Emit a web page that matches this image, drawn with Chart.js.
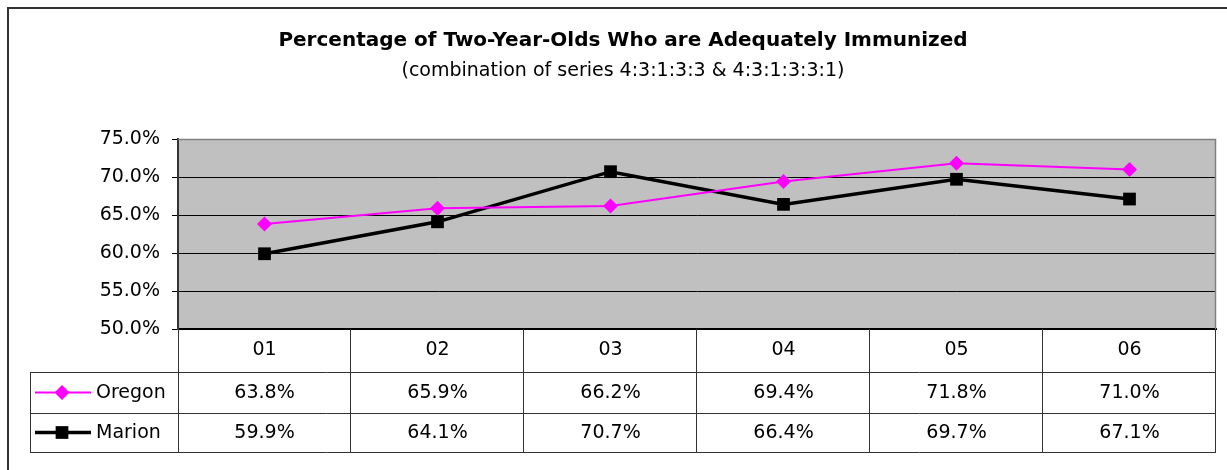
<!DOCTYPE html>
<html>
<head>
<meta charset="utf-8">
<title>Two-Year-Olds Immunized</title>
<script src="https://cdn.jsdelivr.net/npm/chart.js@4/dist/chart.umd.min.js"></script>
<style>
  html, body { margin: 0; padding: 0; background: #fff; }
  canvas { display: block; }
</style>
</head>
<body>
<canvas id="chart" width="1227" height="470"></canvas>
<script>
const categories = ['01', '02', '03', '04', '05', '06'];
const oregonValues = [63.8, 65.9, 66.2, 69.4, 71.8, 71.0];
const marionValues = [59.9, 64.1, 70.7, 66.4, 69.7, 67.1];
const yTicks = [50, 55, 60, 65, 70, 75];
const titleText = 'Percentage of Two-Year-Olds Who are Adequately Immunized';
const subtitleText = '(combination of series 4:3:1:3:3 & 4:3:1:3:3:1)';

const FONT = "'DejaVu Sans', Arial, sans-serif";
const pct = v => v.toFixed(1) + '%';

// draws the title, frame, and the data table under the x axis
const tablePlugin = {
  id: 'tablePlugin',
  beforeDraw(chart) {
    const { ctx, chartArea: a } = chart;
    ctx.save();
    ctx.fillStyle = '#fff';
    ctx.fillRect(0, 0, chart.width, chart.height);
    ctx.fillStyle = '#C0C0C0';
    ctx.fillRect(a.left, a.top, a.right - a.left, a.bottom - a.top);
    ctx.restore();
  },
  afterDraw(chart) {
    const { ctx, chartArea: a } = chart;
    const x = chart.scales.x;
    const half = (x.getPixelForValue(1) - x.getPixelForValue(0)) / 2;
    const row1 = a.bottom + 43, row2 = row1 + 41, row3 = row2 + 39;
    const legendLeft = 30;

    ctx.save();
    // outer frame
    ctx.strokeStyle = '#333';
    ctx.lineWidth = 2;
    ctx.strokeRect(8, 8, chart.width + 20, chart.height + 20);

    // titles
    ctx.fillStyle = '#000';
    ctx.textAlign = 'center';
    ctx.textBaseline = 'alphabetic';
    ctx.font = 'bold 20px ' + FONT;
    ctx.fillText(titleText, 623, 46);
    ctx.font = '19px ' + FONT;
    ctx.fillText(subtitleText, 623, 76);

    // plot border top/right
    ctx.strokeStyle = '#808080';
    ctx.lineWidth = 1.5;
    ctx.beginPath();
    ctx.moveTo(a.left, a.top + 0.5);
    ctx.lineTo(a.right - 0.5, a.top + 0.5);
    ctx.lineTo(a.right - 0.5, a.bottom);
    ctx.stroke();

    // table grid
    ctx.strokeStyle = '#333';
    ctx.lineWidth = 1;
    ctx.beginPath();
    [row1, row2, row3].forEach(y => {
      ctx.moveTo(legendLeft, y + 0.5);
      ctx.lineTo(a.right, y + 0.5);
    });
    ctx.moveTo(legendLeft + 0.5, row1);
    ctx.lineTo(legendLeft + 0.5, row3);
    ctx.moveTo(a.left + 0.5, a.bottom);
    ctx.lineTo(a.left + 0.5, row3);
    categories.forEach((c, i) => {
      const bx = Math.round(x.getPixelForValue(i) + half) - 0.5;
      ctx.moveTo(bx, a.bottom);
      ctx.lineTo(bx, row3);
    });
    ctx.stroke();

    // values
    ctx.font = '19px ' + FONT;
    ctx.textAlign = 'center';
    ctx.textBaseline = 'middle';
    categories.forEach((c, i) => {
      const cx = x.getPixelForValue(i);
      ctx.fillText(pct(oregonValues[i]), cx, (row1 + row2) / 2 + 1);
      ctx.fillText(pct(marionValues[i]), cx, (row2 + row3) / 2 + 1);
    });

    // legend keys
    const ds = chart.data.datasets;
    const keys = [[ds[0], (row1 + row2) / 2], [ds[1], (row2 + row3) / 2]];
    keys.forEach(([d, y]) => {
      ctx.strokeStyle = d.borderColor;
      ctx.lineWidth = d.borderWidth;
      ctx.beginPath();
      ctx.moveTo(35, y);
      ctx.lineTo(91, y);
      ctx.stroke();
      ctx.fillStyle = d.pointBackgroundColor;
      Chart.helpers.drawPoint(ctx, { pointStyle: d.pointStyle, radius: d.pointRadius, borderWidth: 0 }, 62, y);
      ctx.fillStyle = '#000';
      ctx.textAlign = 'left';
      ctx.fillText(d.label, 96, y + 1);
    });
    ctx.restore();
  }
};

new Chart(document.getElementById('chart'), {
  type: 'line',
  data: {
    labels: categories,
    datasets: [
      {
        label: 'Oregon',
        data: oregonValues,
        borderColor: '#FF00FF',
        borderWidth: 2,
        pointStyle: 'rectRot',
        pointRadius: 7.5,
        pointBackgroundColor: '#FF00FF',
        pointBorderColor: '#FF00FF',
        pointBorderWidth: 0,
        tension: 0
      },
      {
        label: 'Marion',
        data: marionValues,
        borderColor: '#000',
        borderWidth: 3.5,
        pointStyle: 'rect',
        pointRadius: 9,
        pointBackgroundColor: '#000',
        pointBorderColor: '#000',
        pointBorderWidth: 0,
        tension: 0
      }
    ]
  },
  options: {
    responsive: false,
    animation: false,
    layout: { padding: { top: 139, left: 8, right: 11, bottom: 0 } },
    plugins: {
      legend: { display: false },
      tooltip: { enabled: false }
    },
    scales: {
      x: {
        offset: true,
        afterFit: s => { s.height = 141; },
        grid: { display: false, drawTicks: false },
        border: { display: true, color: '#000', width: 2 },
        ticks: { color: '#000', font: { family: FONT, size: 19 }, padding: 10 }
      },
      y: {
        min: 50,
        max: 75,
        afterFit: s => { s.width = 170; },
        afterBuildTicks: s => { s.ticks = yTicks.map(v => ({ value: v })); },
        grid: {
          color: c => (c.tick && c.tick.value === 75 ? '#808080' : '#000'),
          lineWidth: 1,
          tickLength: 6,
          tickColor: '#000',
          drawTicks: true
        },
        border: { display: true, color: '#333', width: 2 },
        ticks: {
          color: '#000',
          font: { family: FONT, size: 19 },
          padding: 12,
          callback: v => pct(v)
        }
      }
    }
  },
  plugins: [tablePlugin]
});
</script>
</body>
</html>
